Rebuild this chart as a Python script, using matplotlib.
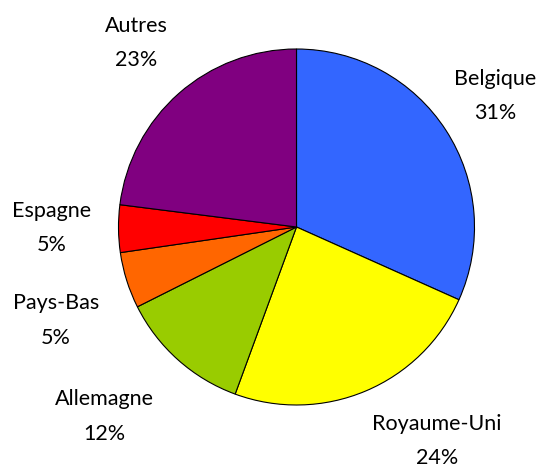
import matplotlib.pyplot as plt
import numpy as np

# parts des pays : secteurs tels que dessinés, et pourcentages affichés
pays = ['Belgique', 'Royaume-Uni', 'Allemagne', 'Pays-Bas', 'Espagne', 'Autres']
parts = [31.7, 23.9, 12.0, 5.1, 4.3, 23.0]
etiquettes_pct = [31, 24, 12, 5, 5, 23]
couleurs = ['#3366FF', '#FFFF00', '#99CC00', '#FF6600', '#FF0000', '#800080']

# placement des étiquettes : distance radiale et décalage angulaire (degrés)
dist = [1.336, 1.438, 1.516, 1.451, 1.374, 1.372]
decal = [0.5, 10.4, -3.6, 3.8, -0.3, -0.3]

fig = plt.figure(figsize=(5.39, 4.68), dpi=100)
ax = fig.add_axes([0, 0, 1, 1])

wedges, _ = ax.pie(parts, colors=couleurs, startangle=90, counterclock=False,
                   wedgeprops=dict(edgecolor='black', linewidth=0.8))

for w, nom, p, d, off in zip(wedges, pays, etiquettes_pct, dist, decal):
    a = np.deg2rad((w.theta1 + w.theta2) / 2 + off)
    ax.text(d * np.cos(a), d * np.sin(a), f'{nom}\n{p}%', ha='center', va='center',
            fontsize=15.5, family='Lato', linespacing=1.9)

r = 178
cx, cy = 296.5, 227
ax.set_xlim(-cx / r, (539 - cx) / r)
ax.set_ylim(-(468 - cy) / r, cy / r)
ax.set_aspect('equal')
ax.axis('off')

fig.savefig('out.png', dpi=100)
